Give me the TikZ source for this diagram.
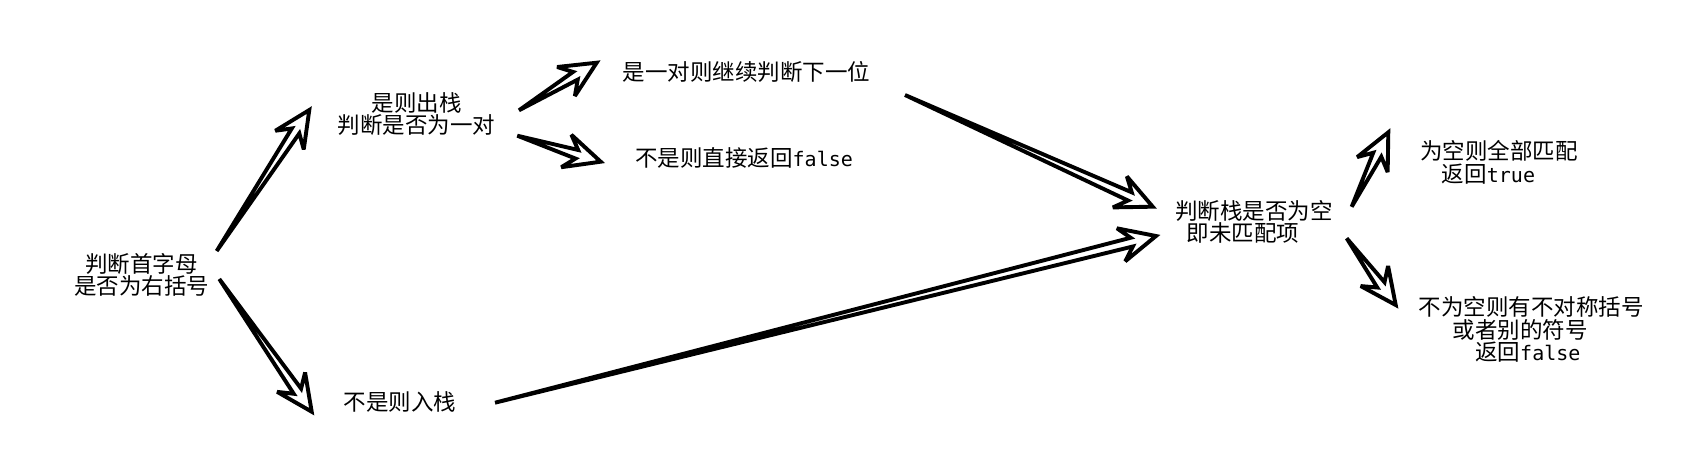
\documentclass[tikz,border=0pt]{standalone}
\usepackage{fontspec}
\setmainfont{Noto Sans CJK SC}
\newfontfamily\cjk{Noto Sans CJK SC}
\newfontfamily\monof{DejaVu Sans Mono}
\usetikzlibrary{calc}
\newcommand\mono[1]{{\monof\fontsize{20}{22.5}\selectfont #1}}
\newcommand\wedgearrow[2]{%
  \path ($(#2)!36pt!(#1)$) coordinate (#2-hb) ($(#2)!25pt!(#1)$) coordinate (#2-jb);
  \draw[wedge] (#1) -- ($(#2-jb)!4.5pt!90:(#2)$) -- ($(#2-hb)!17pt!90:(#2)$) -- (#2)
    -- ($(#2-hb)!17pt!-90:(#2)$) -- ($(#2-jb)!4.5pt!-90:(#2)$) -- cycle;}
\tikzset{
  wedge/.style={draw=black, line width=3.9pt, line join=miter, miter limit=3, fill=white},
  lbl/.style={inner sep=0pt, font=\cjk\fontsize{22.5}{22.5}\selectfont, text=black},
}
\begin{document}
\begin{tikzpicture}[x=1pt,y=-1pt]
\useasboundingbox[fill=white] (0,0) rectangle (1689,472);
% text nodes
\node[lbl, align=center] (judge) at (141.7,275) {判断首字母\\是否为右括号};
\node[lbl, align=center] (pop) at (416.7,114) {是则出栈\\判断是否为一对};
\node[lbl] (push) at (400,401.7) {不是则入栈};
\node[lbl, anchor=west] (pair) at (622.7,71.7) {是一对则继续判断下一位};
\node[lbl, anchor=west] (nopair) at (635,158.3) {不是则直接返回\mono{false}};
\node[lbl, anchor=west, align=left] (empty) at (1175,221.7) {判断栈是否为空\\\hspace*{11.7pt}即未匹配项};
\node[lbl, anchor=west, align=left] (yes) at (1420,162.5) {为空则全部匹配\\\hspace*{21.7pt}返回\mono{true}};
\node[lbl, anchor=west, align=left] (no) at (1418.3,329.5) {不为空则有不对称括号\\\hspace*{34.4pt}或者别的符号\\\hspace*{56.7pt}返回\mono{false}};
% arrow ends
\coordinate (t1) at (216.7,251);   \coordinate (p1) at (309.3,110);
\coordinate (t2) at (219.3,279);   \coordinate (p2) at (311.7,411.7);
\coordinate (t3) at (519,110.3);   \coordinate (p3) at (596.7,62.7);
\coordinate (t4) at (517.3,135.7); \coordinate (p4) at (600.7,161.7);
\coordinate (t5) at (905,95);      \coordinate (p5) at (1152.7,206.7);
\coordinate (t6) at (495,402.7);   \coordinate (p6) at (1156,236);
\coordinate (t7) at (1351.7,206.7);\coordinate (p7) at (1388.3,132.3);
\coordinate (t8) at (1346.7,238.3);\coordinate (p8) at (1395.7,305);
\wedgearrow{t1}{p1}
\wedgearrow{t2}{p2}
\wedgearrow{t3}{p3}
\wedgearrow{t4}{p4}
\wedgearrow{t5}{p5}
\wedgearrow{t6}{p6}
\wedgearrow{t7}{p7}
\wedgearrow{t8}{p8}
\end{tikzpicture}
\end{document}
